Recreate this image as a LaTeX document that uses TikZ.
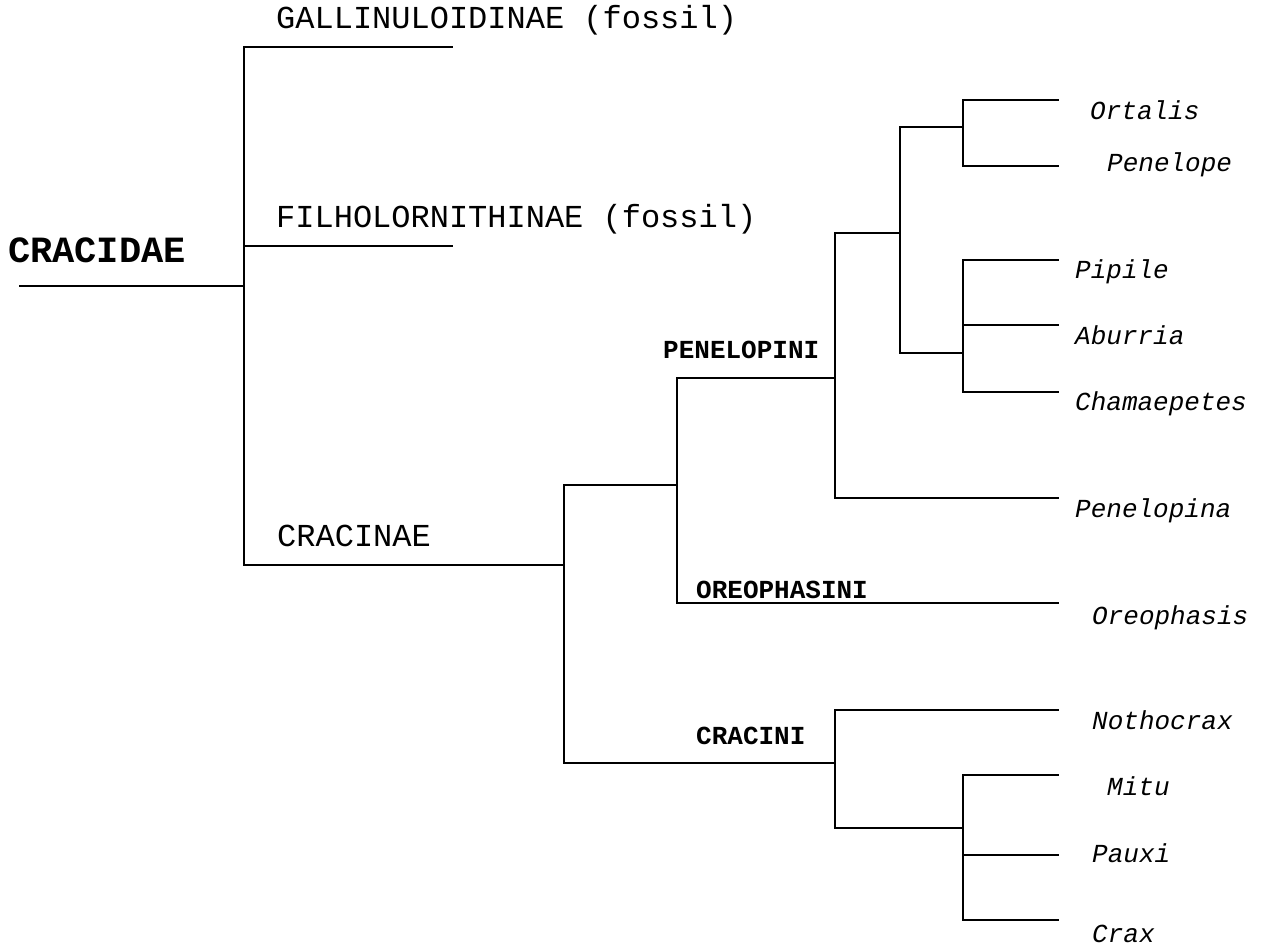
\documentclass[tikz,border=0pt]{standalone}
\usepackage{fontspec}
\setmainfont{Liberation Mono}
\begin{document}
\begin{tikzpicture}[x=1pt,y=-1pt,
  branch/.style={line width=1.9pt,line join=miter,line cap=rect},
  lbl/.style={inner sep=0pt,anchor=base west},
  family/.style={lbl,font=\fontsize{37}{40}\selectfont\bfseries},
  subfam/.style={lbl,font=\fontsize{32}{36}\selectfont},
  tribe/.style={lbl,font=\fontsize{26}{30}\selectfont\bfseries},
  genus/.style={lbl,font=\fontsize{26}{30}\selectfont\itshape}]
\useasboundingbox (0,0) rectangle (1267,949);

% junctions of the tree
\coordinate (r0) at (20,286);
\coordinate (n0) at (244,286);
\coordinate (n1) at (564,565);
\coordinate (n2) at (677,485);
\coordinate (n3) at (835,763);
\coordinate (n4) at (835,378);
\coordinate (n5) at (900,233);
\coordinate (n6) at (963,127);
\coordinate (n7) at (963,353);
\coordinate (n8) at (963,828);

% branch tips
\coordinate (tgal) at (452,47);
\coordinate (tfil) at (452,246);
\coordinate (tort) at (1058,100);
\coordinate (tpen) at (1058,166);
\coordinate (tpip) at (1058,260);
\coordinate (tabu) at (1058,325);
\coordinate (tcha) at (1058,392);
\coordinate (tpna) at (1058,498);
\coordinate (tore) at (1058,603);
\coordinate (tnot) at (1058,710);
\coordinate (tmit) at (1058,775);
\coordinate (tpau) at (1058,855);
\coordinate (tcra) at (1058,920);

% branches
\draw[branch] (r0) -- (n0);
\draw[branch] (n0) |- (tgal);
\draw[branch] (n0) |- (tfil);
\draw[branch] (n0) |- (n1);
\draw[branch] (n1) |- (n2);
\draw[branch] (n1) |- (n3);
\draw[branch] (n2) |- (n4);
\draw[branch] (n2) |- (tore);
\draw[branch] (n4) |- (n5);
\draw[branch] (n4) |- (tpna);
\draw[branch] (n5) |- (n6);
\draw[branch] (n5) |- (n7);
\draw[branch] (n6) |- (tort);
\draw[branch] (n6) |- (tpen);
\draw[branch] (n7) |- (tpip);
\draw[branch] (n7) |- (tabu);
\draw[branch] (n7) |- (tcha);
\draw[branch] (n3) |- (tnot);
\draw[branch] (n3) |- (n8);
\draw[branch] (n8) |- (tmit);
\draw[branch] (n8) |- (tpau);
\draw[branch] (n8) |- (tcra);

% labels
\node[family] (lcracidae) at (8,263) {CRACIDAE};
\node[subfam] (lgal) at (276,29) {GALLINULOIDINAE (fossil)};
\node[subfam] (lfil) at (276,228) {FILHOLORNITHINAE (fossil)};
\node[subfam] (lcracinae) at (277,546) {CRACINAE};
\node[tribe] (lpenini) at (663,359) {PENELOPINI};
\node[tribe] (loreini) at (696,598) {OREOPHASINI};
\node[tribe] (lcracini) at (696,744) {CRACINI};
\node[genus] (lort) at (1090,120) {Ortalis};
\node[genus] (lpen) at (1107,172) {Penelope};
\node[genus] (lpip) at (1075,279) {Pipile};
\node[genus] (labu) at (1075,345) {Aburria};
\node[genus] (lcha) at (1075,411) {Chamaepetes};
\node[genus] (lpna) at (1075,517) {Penelopina};
\node[genus] (lore) at (1092,624) {Oreophasis};
\node[genus] (lnot) at (1092,729) {Nothocrax};
\node[genus] (lmit) at (1107,795) {Mitu};
\node[genus] (lpau) at (1092,862) {Pauxi};
\node[genus] (lcra) at (1092,942) {Crax};
\end{tikzpicture}
\end{document}
